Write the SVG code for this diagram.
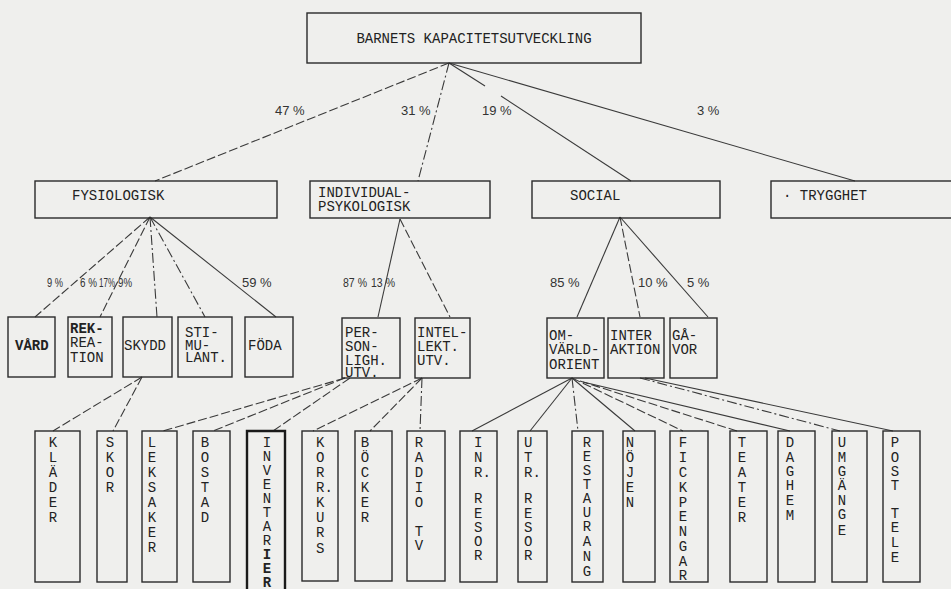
<svg xmlns="http://www.w3.org/2000/svg" width="951" height="589" viewBox="0 0 951 589">
<style>
.bg{fill:#efefed}
.box{fill:none;stroke:#2a2a2a;stroke-width:1.4}
.thick{fill:none;stroke:#1a1a1a;stroke-width:2.4}
.t{font-family:"Liberation Mono",monospace;font-size:14px;fill:#222}
.m{text-anchor:middle}
.b{font-weight:bold}
.p{font-family:"Liberation Sans",sans-serif;font-size:13px;fill:#333}
.ps{font-family:"Liberation Sans",sans-serif;font-size:12px;fill:#333}
.c{stroke:#3a3a3a;stroke-width:1.1;fill:none}
.d{stroke-dasharray:9 3}
.dd{stroke-dasharray:10 3 2 3}
</style>
<rect class="bg" x="0" y="0" width="951" height="589"/>

<g id="connectors">
  <line class="c d" x1="449" y1="63" x2="155" y2="181"/>
  <line class="c dd" x1="449" y1="63" x2="418" y2="181"/>
  <line class="c" x1="449" y1="63" x2="485" y2="86"/>
  <line class="c" x1="501" y1="96" x2="631" y2="181"/>
  <line class="c" x1="449" y1="63" x2="855" y2="181"/>
  <line class="c d" x1="150" y1="217" x2="35" y2="317"/>
  <line class="c d" x1="150" y1="217" x2="100" y2="317"/>
  <line class="c dd" x1="150" y1="217" x2="157" y2="317"/>
  <line class="c dd" x1="150" y1="217" x2="205" y2="317"/>
  <line class="c" x1="150" y1="217" x2="276" y2="317"/>
  <line class="c" x1="400" y1="219" x2="378" y2="317"/>
  <line class="c d" x1="400" y1="219" x2="450" y2="317"/>
  <line class="c" x1="620" y1="217" x2="577" y2="317"/>
  <line class="c d" x1="620" y1="217" x2="640" y2="317"/>
  <line class="c" x1="620" y1="217" x2="708" y2="317"/>
  <line class="c d" x1="142" y1="377" x2="53" y2="431"/>
  <line class="c d" x1="142" y1="377" x2="113" y2="431"/>
  <line class="c d" x1="345" y1="378" x2="163" y2="431"/>
  <line class="c d" x1="345" y1="378" x2="213" y2="431"/>
  <line class="c d" x1="350" y1="378" x2="273" y2="431"/>
  <line class="c d" x1="422" y1="378" x2="313" y2="431"/>
  <line class="c d" x1="422" y1="378" x2="370" y2="431"/>
  <line class="c dd" x1="422" y1="378" x2="420" y2="431"/>
  <line class="c" x1="572" y1="378" x2="472" y2="431"/>
  <line class="c" x1="572" y1="378" x2="530" y2="431"/>
  <line class="c dd" x1="572" y1="378" x2="578" y2="431"/>
  <line class="c" x1="572" y1="378" x2="635" y2="431"/>
  <line class="c d" x1="572" y1="378" x2="683" y2="431"/>
  <line class="c d" x1="580" y1="381" x2="737" y2="431"/>
  <line class="c" x1="583" y1="382" x2="790" y2="431"/>
  <line class="c dd" x1="640" y1="378" x2="840" y2="431"/>
  <line class="c" x1="645" y1="378" x2="893" y2="431"/>
</g>

<g id="labels">
  <text class="p" x="275" y="115">47 %</text>
  <text class="p" x="401" y="115">31 %</text>
  <text class="p" x="482" y="115">19 %</text>
  <text class="p" x="697" y="115">3 %</text>
  <text class="ps" x="47" y="287" textLength="16" lengthAdjust="spacingAndGlyphs">9 %</text>
  <text class="ps" x="80" y="287" textLength="17" lengthAdjust="spacingAndGlyphs">6 %</text>
  <text class="ps" x="99" y="287" textLength="16" lengthAdjust="spacingAndGlyphs">17%</text>
  <text class="ps" x="118" y="287" textLength="14" lengthAdjust="spacingAndGlyphs">9%</text>
  <text class="p" x="242" y="287">59 %</text>
  <text class="ps" x="343" y="287" textLength="24" lengthAdjust="spacingAndGlyphs">87 %</text>
  <text class="ps" x="371" y="287" textLength="24" lengthAdjust="spacingAndGlyphs">13 %</text>
  <text class="p" x="550" y="287">85 %</text>
  <text class="p" x="638" y="287">10 %</text>
  <text class="p" x="687" y="287">5 %</text>
</g>

<g id="n-root"><rect class="box" x="307" y="13" width="334" height="50"/><text class="t m" x="474" y="43">BARNETS KAPACITETSUTVECKLING</text></g>

<g id="n-fysiologisk"><rect class="box" x="35" y="181" width="242" height="37"/><text class="t" x="72" y="200">FYSIOLOGISK</text></g>
<g id="n-individual"><rect class="box" x="310" y="181" width="180" height="37"/><text class="t" x="318" y="197">INDIVIDUAL-</text><text class="t" x="318" y="211">PSYKOLOGISK</text></g>
<g id="n-social"><rect class="box" x="532" y="181" width="188" height="37"/><text class="t" x="570" y="200">SOCIAL</text></g>
<g id="n-trygghet"><rect class="box" x="771" y="181" width="190" height="37"/><text class="t" x="783" y="200">· TRYGGHET</text></g>

<g id="n-vard"><rect class="box" x="8" y="317" width="47" height="60"/><text class="t b" x="15" y="350">VÅRD</text></g>
<g id="n-rekreation"><rect class="box" x="68" y="317" width="44" height="60"/><text class="t b" x="70" y="333">REK-</text><text class="t" x="70" y="347">REA-</text><text class="t" x="70" y="362">TION</text></g>
<g id="n-skydd"><rect class="box" x="123" y="317" width="49" height="60"/><text class="t" x="124" y="350">SKYDD</text></g>
<g id="n-stimulant"><rect class="box" x="178" y="317" width="54" height="60"/><text class="t" x="185" y="337">STI-</text><text class="t" x="185" y="350">MU-</text><text class="t" x="185" y="362">LANT.</text></g>
<g id="n-foda"><rect class="box" x="245" y="317" width="48" height="60"/><text class="t" x="248" y="350">FÖDA</text></g>

<g id="n-personligh"><rect class="box" x="342" y="318" width="58" height="60"/><text class="t" x="345" y="337">PER-</text><text class="t" x="345" y="351">SON-</text><text class="t" x="345" y="365">LIGH.</text><text class="t" x="345" y="377">UTV.</text></g>
<g id="n-intellekt"><rect class="box" x="415" y="318" width="55" height="60"/><text class="t" x="417" y="337">INTEL-</text><text class="t" x="417" y="351">LEKT.</text><text class="t" x="417" y="365">UTV.</text></g>

<g id="n-omvarld"><rect class="box" x="547" y="318" width="57" height="60"/><text class="t" x="549" y="340">OM-</text><text class="t" x="549" y="354">VÄRLD-</text><text class="t" x="549" y="369">ORIENT</text></g>
<g id="n-interaktion"><rect class="box" x="608" y="318" width="56" height="60"/><text class="t" x="610" y="340">INTER</text><text class="t" x="610" y="354">AKTION</text></g>
<g id="n-gavor"><rect class="box" x="670" y="318" width="47" height="60"/><text class="t" x="672" y="340">GÅ-</text><text class="t" x="672" y="354">VOR</text></g>

<g id="n-klader"><rect class="box" x="35" y="431" width="45" height="151"/><text class="t m"><tspan x="53" y="447">K</tspan><tspan x="53" y="462">L</tspan><tspan x="53" y="477">Ä</tspan><tspan x="53" y="492">D</tspan><tspan x="53" y="507">E</tspan><tspan x="53" y="522">R</tspan></text></g>
<g id="n-skor"><rect class="box" x="97" y="431" width="30" height="151"/><text class="t m"><tspan x="110" y="447">S</tspan><tspan x="110" y="462">K</tspan><tspan x="110" y="477">O</tspan><tspan x="110" y="492">R</tspan></text></g>
<g id="n-leksaker"><rect class="box" x="142" y="431" width="35" height="151"/><text class="t m"><tspan x="152" y="447">L</tspan><tspan x="152" y="462">E</tspan><tspan x="152" y="477">K</tspan><tspan x="152" y="492">S</tspan><tspan x="152" y="507">A</tspan><tspan x="152" y="522">K</tspan><tspan x="152" y="537">E</tspan><tspan x="152" y="552">R</tspan></text></g>
<g id="n-bostad"><rect class="box" x="193" y="431" width="37" height="151"/><text class="t m"><tspan x="205" y="447">B</tspan><tspan x="205" y="462">O</tspan><tspan x="205" y="477">S</tspan><tspan x="205" y="492">T</tspan><tspan x="205" y="507">A</tspan><tspan x="205" y="522">D</tspan></text></g>
<g id="n-inventarier"><path class="thick" d="M247,589 V431 H285 V589"/><text class="t m"><tspan x="267" y="447">I</tspan><tspan x="267" y="461">N</tspan><tspan x="267" y="475">V</tspan><tspan x="267" y="489">E</tspan><tspan x="267" y="503">N</tspan><tspan x="267" y="517">T</tspan><tspan x="267" y="531">A</tspan><tspan x="267" y="545">R</tspan><tspan x="267" y="559" font-weight="bold">I</tspan><tspan x="267" y="573" font-weight="bold">E</tspan><tspan x="267" y="587" font-weight="bold">R</tspan></text></g>
<g id="n-korrkurs"><rect class="box" x="302" y="431" width="36" height="150"/><text class="t"><tspan x="316" y="447">K</tspan><tspan x="316" y="462">O</tspan><tspan x="316" y="477">R</tspan><tspan x="316" y="492">R.</tspan><tspan x="316" y="507">K</tspan><tspan x="316" y="522">U</tspan><tspan x="316" y="537">R</tspan><tspan x="316" y="553">S</tspan></text></g>
<g id="n-bocker"><rect class="box" x="355" y="431" width="37" height="150"/><text class="t m"><tspan x="365" y="447">B</tspan><tspan x="365" y="462">Ö</tspan><tspan x="365" y="477">C</tspan><tspan x="365" y="492">K</tspan><tspan x="365" y="507">E</tspan><tspan x="365" y="522">R</tspan></text></g>
<g id="n-radiotv"><rect class="box" x="407" y="431" width="38" height="150"/><text class="t m"><tspan x="419" y="447">R</tspan><tspan x="419" y="462">A</tspan><tspan x="419" y="477">D</tspan><tspan x="419" y="492">I</tspan><tspan x="419" y="507">O</tspan><tspan x="419" y="536">T</tspan><tspan x="419" y="550">V</tspan></text></g>
<g id="n-inrresor"><rect class="box" x="460" y="431" width="37" height="151"/><text class="t"><tspan x="474" y="447">I</tspan><tspan x="474" y="462">N</tspan><tspan x="474" y="477">R.</tspan><tspan x="474" y="503">R</tspan><tspan x="474" y="518">E</tspan><tspan x="474" y="532">S</tspan><tspan x="474" y="546">O</tspan><tspan x="474" y="560">R</tspan></text></g>
<g id="n-utrresor"><rect class="box" x="518" y="431" width="29" height="151"/><text class="t"><tspan x="524" y="447">U</tspan><tspan x="524" y="462">T</tspan><tspan x="524" y="477">R.</tspan><tspan x="524" y="503">R</tspan><tspan x="524" y="518">E</tspan><tspan x="524" y="532">S</tspan><tspan x="524" y="546">O</tspan><tspan x="524" y="560">R</tspan></text></g>
<g id="n-restaurang"><rect class="box" x="572" y="431" width="31" height="151"/><text class="t m"><tspan x="587" y="447">R</tspan><tspan x="587" y="461">E</tspan><tspan x="587" y="475">S</tspan><tspan x="587" y="489">T</tspan><tspan x="587" y="503">A</tspan><tspan x="587" y="517">U</tspan><tspan x="587" y="531">R</tspan><tspan x="587" y="546">A</tspan><tspan x="587" y="561">N</tspan><tspan x="587" y="576">G</tspan></text></g>
<g id="n-nojen"><rect class="box" x="623" y="431" width="32" height="151"/><text class="t m"><tspan x="630" y="447">N</tspan><tspan x="630" y="462">Ö</tspan><tspan x="630" y="477">J</tspan><tspan x="630" y="492">E</tspan><tspan x="630" y="507">N</tspan></text></g>
<g id="n-fickpengar"><rect class="box" x="670" y="431" width="38" height="151"/><text class="t m"><tspan x="683" y="447">F</tspan><tspan x="683" y="462">I</tspan><tspan x="683" y="477">C</tspan><tspan x="683" y="492">K</tspan><tspan x="683" y="507">P</tspan><tspan x="683" y="521">E</tspan><tspan x="683" y="536">N</tspan><tspan x="683" y="551">G</tspan><tspan x="683" y="566">A</tspan><tspan x="683" y="580">R</tspan></text></g>
<g id="n-teater"><rect class="box" x="730" y="431" width="37" height="151"/><text class="t m"><tspan x="742" y="447">T</tspan><tspan x="742" y="462">E</tspan><tspan x="742" y="477">A</tspan><tspan x="742" y="492">T</tspan><tspan x="742" y="507">E</tspan><tspan x="742" y="522">R</tspan></text></g>
<g id="n-daghem"><rect class="box" x="778" y="431" width="37" height="151"/><text class="t m"><tspan x="790" y="447">D</tspan><tspan x="790" y="462">A</tspan><tspan x="790" y="476">G</tspan><tspan x="790" y="490">H</tspan><tspan x="790" y="505">E</tspan><tspan x="790" y="520">M</tspan></text></g>
<g id="n-umgange"><rect class="box" x="832" y="431" width="35" height="151"/><text class="t m"><tspan x="842" y="447">U</tspan><tspan x="842" y="462">M</tspan><tspan x="842" y="476">G</tspan><tspan x="842" y="490">Ä</tspan><tspan x="842" y="505">N</tspan><tspan x="842" y="519">G</tspan><tspan x="842" y="535">E</tspan></text></g>
<g id="n-posttele"><rect class="box" x="883" y="431" width="37" height="151"/><text class="t m"><tspan x="895" y="447">P</tspan><tspan x="895" y="462">O</tspan><tspan x="895" y="476">S</tspan><tspan x="895" y="490">T</tspan><tspan x="895" y="518">T</tspan><tspan x="895" y="532">E</tspan><tspan x="895" y="547">L</tspan><tspan x="895" y="562">E</tspan></text></g>
</svg>
